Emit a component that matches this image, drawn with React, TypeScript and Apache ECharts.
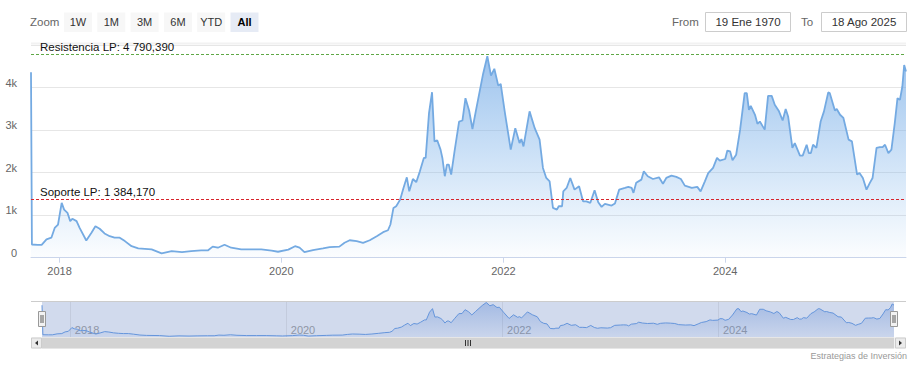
import React, { useEffect, useRef } from 'react';
import * as echarts from 'echarts';

const dates = [
  '2017-09-29','2017-10-02','2017-10-21','2017-11-03','2017-11-19','2017-12-05','2017-12-16','2017-12-27',
  '2018-01-08','2018-01-16','2018-01-27','2018-02-05','2018-02-12','2018-02-26','2018-03-08','2018-03-30',
  '2018-04-16','2018-04-29','2018-05-13','2018-05-29','2018-06-15','2018-07-01','2018-07-18','2018-08-04',
  '2018-08-26','2018-09-17','2018-10-31','2018-12-03','2019-01-05','2019-02-08','2019-03-10','2019-04-12',
  '2019-05-04','2019-05-20','2019-06-06','2019-06-28','2019-07-20','2019-08-22','2019-09-24','2019-10-27',
  '2019-11-30','2019-12-21','2020-01-24','2020-02-15','2020-03-01','2020-03-17','2020-04-14','2020-05-17',
  '2020-06-08','2020-07-10','2020-07-27','2020-08-13','2020-09-05','2020-09-26','2020-10-18','2020-11-10',
  '2020-12-01','2020-12-17','2020-12-25','2021-01-04','2021-01-13','2021-01-26','2021-02-06','2021-02-17',
  '2021-02-25','2021-03-09','2021-03-20','2021-04-01','2021-04-14','2021-04-20','2021-05-01','2021-05-11',
  '2021-05-19','2021-05-28','2021-06-08','2021-06-14','2021-06-22','2021-06-29','2021-07-05','2021-07-13',
  '2021-07-24','2021-08-08','2021-08-19','2021-08-29','2021-09-10','2021-09-21','2021-10-04','2021-10-26',
  '2021-11-09','2021-11-21','2021-12-02','2021-12-15','2021-12-23','2022-01-06','2022-01-25','2022-02-09',
  '2022-02-23','2022-03-01','2022-03-08','2022-03-28','2022-04-14','2022-04-30','2022-05-11','2022-05-22',
  '2022-06-02','2022-06-13','2022-06-26','2022-07-02','2022-07-13','2022-07-17','2022-07-28','2022-08-09',
  '2022-08-23','2022-09-07','2022-09-20','2022-10-01','2022-10-14','2022-10-28','2022-11-09','2022-11-20',
  '2022-12-01','2022-12-23','2023-01-03','2023-01-17','2023-02-05','2023-02-16','2023-02-27','2023-03-05',
  '2023-03-14','2023-03-31','2023-04-08','2023-04-21','2023-05-08','2023-05-28','2023-06-10','2023-06-21',
  '2023-07-08','2023-07-24','2023-08-08','2023-08-21','2023-09-13','2023-10-01','2023-10-12','2023-10-26',
  '2023-11-06','2023-11-22','2023-12-05','2023-12-14','2024-01-01','2024-01-08','2024-01-17','2024-01-25',
  '2024-02-06','2024-02-19','2024-03-05','2024-03-12','2024-03-19','2024-03-25','2024-04-08','2024-04-16',
  '2024-04-24','2024-05-10','2024-05-21','2024-06-02','2024-06-12','2024-06-26','2024-07-08','2024-07-18',
  '2024-07-26','2024-08-09','2024-08-17','2024-09-03','2024-09-12','2024-09-25','2024-10-02','2024-10-09',
  '2024-10-16','2024-10-27','2024-11-10','2024-11-21','2024-12-05','2024-12-10','2024-12-27','2025-01-02',
  '2025-01-13','2025-01-24','2025-02-10','2025-02-21','2025-03-10','2025-03-18','2025-03-29','2025-04-10',
  '2025-04-21','2025-04-30','2025-05-13','2025-05-24','2025-06-02','2025-06-10','2025-06-21','2025-07-01',
  '2025-07-12','2025-07-21','2025-07-29','2025-08-06','2025-08-12','2025-08-18',
];

const values = [
  4360, 310, 300, 300, 430, 470, 700, 780,
  1290, 1130, 1055, 860, 915, 860, 700, 405,
  585, 740, 680, 570, 505, 470, 470, 390,
  270, 220, 195, 100, 155, 130, 155, 170,
  170, 260, 235, 305, 235, 195, 195, 195,
  165, 140, 190, 270, 235, 130, 180, 220,
  250, 260, 350, 410, 390, 350, 410, 505,
  600, 645, 780, 1170, 1210, 1365, 1640, 1890,
  1560, 1850, 1775, 2030, 2345, 2345, 3400, 3890,
  2735, 2760, 2540, 2345, 1915, 2190, 2190, 1955,
  2500, 3200, 3225, 3750, 3460, 3025, 3515, 4320,
  4735, 4280, 4440, 4045, 4085, 3400, 2540, 3045,
  2695, 2790, 2615, 3440, 3045, 2775, 2110, 1875,
  1795, 1170, 1130, 1210, 1210, 1560, 1640, 1875,
  1600, 1680, 1325, 1325, 1290, 1585, 1305, 1195,
  1265, 1225, 1275, 1600, 1640, 1665, 1640, 1525,
  1760, 1835, 2030, 1915, 1850, 1890, 1740, 1875,
  1930, 1900, 1850, 1695, 1640, 1665, 1560, 1795,
  1990, 2110, 2345, 2280, 2320, 2520, 2500, 2290,
  2420, 3010, 3870, 3870, 3475, 3570, 3360, 3150,
  3200, 3010, 3805, 3805, 3595, 3440, 3225, 3495,
  3320, 2580, 2695, 2400, 2400, 2655, 2460, 2460,
  2655, 2580, 3200, 3440, 3885, 3870, 3460, 3495,
  3360, 3285, 2775, 2735, 1955, 1990, 1875, 1600,
  1760, 1875, 2580, 2600, 2600, 2655, 2460, 2540,
  3165, 3750, 3710, 4025, 4530, 4375,
];

const xTickYears = [2018, 2020, 2022, 2024];
const yTickLabels = ['0', '1k', '2k', '3k', '4k'];
const resistanceValue = 4790.39;
const supportValue = 1384.17;
const resistanceName = 'Resistencia LP';
const supportName = 'Soporte LP';
const zoomButtons = ['1W', '1M', '3M', '6M', 'YTD', 'All'];
const selectedButton = 'All';
const fromText = '19 Ene 1970';
const toText = '18 Ago 2025';
const creditsText = 'Estrategias de Inversión';

const FONT = '"Liberation Sans", Arial, sans-serif';

const ts = (s: string) => {
  const [y, m, d] = s.split('-').map(Number);
  return new Date(y, m - 1, d).getTime();
};

const fmtNum = (v: number) => {
  const [i, f] = v.toFixed(3).split('.');
  return i.replace(/\B(?=(\d{3})+(?!\d))/g, ' ') + ',' + f;
};

const levelLine = (value: number, name: string, color: string) => ({
  type: 'line', xAxisIndex: 0, yAxisIndex: 0, data: [], symbol: 'none',
  markLine: {
    silent: true, symbol: 'none', animation: false,
    lineStyle: { color, type: [3, 2], width: 1, opacity: 1 },
    label: {
      formatter: `${name}: ${fmtNum(value)}`, position: 'insideStartTop',
      color: '#111', fontSize: 11.5, fontFamily: FONT, distance: [9, 1],
    },
    data: [{ yAxis: value }],
  },
});

export default function App() {
  const ref = useRef<HTMLDivElement>(null);
  useEffect(() => {
    document.body.style.margin = '0';
    const chart = echarts.init(ref.current!, undefined, { renderer: 'svg' });
    const data = dates.map((d, i) => [ts(d), values[i]]);
    const t0 = ts(dates[0]);
    const t1 = ts(dates[dates.length - 1]);
    const tickTs = xTickYears.map((y) => new Date(y, 0, 1).getTime());
    const yearFmt = (v: number) => String(new Date(v).getFullYear());

    const graphic: any[] = [];
    graphic.push({
      type: 'text', x: 30, y: 22,
      style: { text: 'Zoom', fill: '#666', fontSize: 11.5, fontFamily: FONT, align: 'left', verticalAlign: 'middle' },
    });
    zoomButtons.forEach((b, i) => {
      const bx = 64 + i * 33.3;
      const sel = b === selectedButton;
      graphic.push({
        type: 'rect', shape: { x: bx, y: 12.5, width: 28, height: 19.5 },
        style: { fill: sel ? '#e6ebf5' : '#f7f7f7' },
      });
      graphic.push({
        type: 'text', x: bx + 14, y: 22.3,
        style: { text: b, fill: sel ? '#000' : '#333', fontSize: 11, fontWeight: sel ? 'bold' : 'normal', fontFamily: FONT, align: 'center', verticalAlign: 'middle' },
      });
    });
    graphic.push({
      type: 'text', x: 672, y: 22,
      style: { text: 'From', fill: '#666', fontSize: 11.5, fontFamily: FONT, align: 'left', verticalAlign: 'middle' },
    });
    graphic.push({
      type: 'text', x: 801, y: 22,
      style: { text: 'To', fill: '#666', fontSize: 11.5, fontFamily: FONT, align: 'left', verticalAlign: 'middle' },
    });
    [[705.5, fromText], [821.5, toText]].forEach(([bx, t]) => {
      graphic.push({
        type: 'rect', shape: { x: bx as number, y: 12.5, width: 85, height: 19 },
        style: { fill: '#fff', stroke: '#cccccc', lineWidth: 1 },
      });
      graphic.push({
        type: 'text', x: (bx as number) + 42.5, y: 22.3,
        style: { text: t as string, fill: '#333', fontSize: 11.5, fontFamily: FONT, align: 'center', verticalAlign: 'middle' },
      });
    });
    graphic.push({ type: 'rect', shape: { x: 31, y: 42.5, width: 875, height: 2 }, style: { fill: '#f2f2f2' } });
    graphic.push({ type: 'line', shape: { x1: 31, y1: 301.5, x2: 906, y2: 301.5 }, style: { stroke: '#cccccc', lineWidth: 1 }, z: 10 });
    graphic.push({ type: 'rect', shape: { x: 31, y: 337.5, width: 875, height: 11 }, style: { fill: '#f2f2f2' }, z: 10 });
    graphic.push({ type: 'rect', shape: { x: 42, y: 337.5, width: 852, height: 11 }, style: { fill: '#d3d3d3' }, z: 10 });
    [31, 895].forEach((bx, i) => {
      graphic.push({ type: 'rect', shape: { x: bx + 0.5, y: 338, width: 10, height: 10 }, style: { fill: '#ebebeb', stroke: '#cccccc', lineWidth: 1 }, z: 11 });
      const cx = bx + 5.5;
      const pts = i === 0 ? [[cx + 1.5, 340.5], [cx + 1.5, 345.5], [cx - 1.5, 343]] : [[cx - 1.5, 340.5], [cx - 1.5, 345.5], [cx + 1.5, 343]];
      graphic.push({ type: 'polygon', shape: { points: pts }, style: { fill: '#333' }, z: 12 });
    });
    [465.5, 468, 470.5].forEach((gx) => {
      graphic.push({ type: 'line', shape: { x1: gx, y1: 340, x2: gx, y2: 346 }, style: { stroke: '#333', lineWidth: 1 }, z: 12 });
    });
    [42, 894].forEach((hx) => {
      graphic.push({ type: 'rect', shape: { x: hx - 3.5, y: 311.5, width: 7, height: 15 }, style: { fill: '#f2f2f2', stroke: '#999999', lineWidth: 1 }, z: 12 });
      [hx - 1, hx + 1].forEach((lx) => {
        graphic.push({ type: 'line', shape: { x1: lx, y1: 315, x2: lx, y2: 323 }, style: { stroke: '#333', lineWidth: 0.8 }, z: 13 });
      });
    });
    graphic.push({
      type: 'text', x: 907, y: 356,
      style: { text: creditsText, fill: '#999', fontSize: 9, fontFamily: FONT, align: 'right', verticalAlign: 'middle' },
    });

    const option: any = {
      animation: false,
      textStyle: { fontFamily: FONT },
      grid: [
        { left: 31, right: 12, top: 45, height: 212.7 },
        { left: 42, right: 24, top: 302, height: 35, show: true, backgroundColor: 'rgba(102,133,194,0.3)', borderWidth: 0 },
      ],
      xAxis: [
        {
          type: 'value', gridIndex: 0, min: t0, max: t1,
          axisLine: { lineStyle: { color: '#ccd6eb' } },
          axisTick: { show: true, length: 5, customValues: tickTs, lineStyle: { color: '#ccd6eb' } },
          axisLabel: { customValues: tickTs, color: '#666', fontSize: 11, fontFamily: FONT, margin: 8, formatter: yearFmt },
          splitLine: { show: false },
        },
        {
          type: 'value', gridIndex: 1, min: t0, max: t1,
          axisLine: { show: false },
          axisTick: { show: false, customValues: tickTs },
          axisLabel: {
            customValues: tickTs, inside: true, color: '#8f96a6', fontSize: 11, fontFamily: FONT, margin: 2,
            align: 'left', padding: [0, 0, 0, 5], formatter: yearFmt,
          },
          splitLine: { show: true, lineStyle: { color: '#c3cbdd', width: 1 } },
        },
      ],
      yAxis: [
        {
          type: 'value', gridIndex: 0, min: 0, max: 5000, interval: 1000,
          axisLine: { show: false }, axisTick: { show: false },
          axisLabel: {
            color: '#666', fontSize: 11, fontFamily: FONT, margin: 14, verticalAlign: 'bottom', lineHeight: 10,
            showMaxLabel: false,
            formatter: (v: number) => yTickLabels[Math.round(v / 1000)] ?? '',
          },
          splitLine: { lineStyle: { color: '#e6e6e6' } },
        },
        { type: 'value', gridIndex: 1, min: 0, max: 4800, show: false },
      ],
      series: [
        {
          type: 'line', xAxisIndex: 0, yAxisIndex: 0, data, symbol: 'none', showSymbol: false,
          lineStyle: { color: '#74aae2', width: 1.8 },
          itemStyle: { color: '#74aae2' },
          areaStyle: {
            color: new echarts.graphic.LinearGradient(0, 0, 0, 1, [
              { offset: 0, color: 'rgba(116,170,230,1)' },
              { offset: 1, color: 'rgba(124,181,236,0.04)' },
            ]),
          },
        },
        levelLine(resistanceValue, resistanceName, '#5fa846'),
        levelLine(supportValue, supportName, '#d9232b'),
        {
          type: 'line', xAxisIndex: 1, yAxisIndex: 1, data, symbol: 'none', showSymbol: false,
          lineStyle: { color: '#6595db', width: 1 },
          areaStyle: {
            color: new echarts.graphic.LinearGradient(0, 0, 0, 1, [
              { offset: 0, color: 'rgba(80,128,210,0.5)' },
              { offset: 1, color: 'rgba(80,128,210,0.08)' },
            ]),
          },
        },
      ],
      graphic,
    };
    chart.setOption(option);
    return () => chart.dispose();
  }, []);
  return <div ref={ref} style={{ position: 'absolute', left: 0, top: 0, width: 918, height: 366 }} />;
}
